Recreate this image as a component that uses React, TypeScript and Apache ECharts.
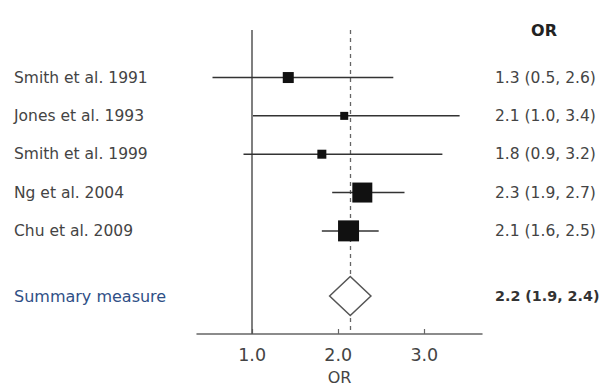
import React, { useEffect, useRef } from "react";
import * as echarts from "echarts";

// ---- data ----
const studies = [
  "Smith et al. 1991",
  "Jones et al. 1993",
  "Smith et al. 1999",
  "Ng et al. 2004",
  "Chu et al. 2009",
];
const estimates = [1.42, 2.07, 1.81, 2.28, 2.12];
const lowerCI = [0.54, 1.01, 0.9, 1.93, 1.81];
const upperCI = [2.64, 3.41, 3.21, 2.77, 2.47];
const weights = [11, 8, 9, 20, 21];
const orLabels = [
  "1.3 (0.5, 2.6)",
  "2.1 (1.0, 3.4)",
  "1.8 (0.9, 3.2)",
  "2.3 (1.9, 2.7)",
  "2.1 (1.6, 2.5)",
];
const rows = [0, 1, 2, 3, 4];
const summaryName = "Summary measure";
const summaryEstimate = 2.14;
const summaryLower = 1.9;
const summaryUpper = 2.38;
const summaryLabel = "2.2 (1.9, 2.4)";
const summaryRow = 5.7;
const xTicks = [1, 2, 3];
const nullValue = 1;
const columnHeader = "OR";
const axisName = "OR";

const FONT = "'DejaVu Sans', sans-serif";

export default function App() {
  const ref = useRef<HTMLDivElement>(null);
  useEffect(() => {
    document.body.style.margin = "0";
    const chart = echarts.init(ref.current!, null, { renderer: "svg" });
    const studyData = studies.map((_, i) => [
      lowerCI[i],
      upperCI[i],
      estimates[i],
      rows[i],
      weights[i],
    ]);
    const option: any = {
      animation: false,
      backgroundColor: "#fff",
      grid: {
        left: 197,
        right: 117,
        top: 30,
        bottom: 56,
        containLabel: false,
        outerBoundsMode: "none",
      },
      xAxis: {
        type: "value",
        min: 0.36,
        max: 3.67,
        name: axisName,
        nameLocation: "middle",
        nameGap: 35,
        nameTextStyle: { fontFamily: FONT, fontSize: 16, color: "#444" },
        axisLine: { show: true, onZero: false, lineStyle: { color: "#666", width: 1.5 } },
        axisTick: {
          show: true,
          inside: true,
          length: 5,
          customValues: xTicks,
          lineStyle: { color: "#666", width: 1.2 },
        },
        axisLabel: {
          customValues: xTicks,
          margin: 12,
          fontFamily: FONT,
          fontSize: 17.5,
          color: "#444",
          formatter: (v: number) => v.toFixed(1),
        },
        splitLine: { show: false },
      },
      yAxis: {
        type: "value",
        inverse: true,
        min: -1.24,
        max: 6.69,
        show: false,
      },
      graphic: [
        {
          type: "text",
          x: 544,
          y: 30,
          style: {
            text: columnHeader,
            fontFamily: FONT,
            fontSize: 16,
            fontWeight: "bold",
            fill: "#222",
            align: "center",
            verticalAlign: "middle",
          },
        },
      ],
      series: [
        {
          type: "line",
          data: [],
          markLine: {
            silent: true,
            symbol: "none",
            z: 1,
            label: { show: false },
            data: [
              { xAxis: nullValue, lineStyle: { type: "solid", color: "#555", width: 1.5 } },
              { xAxis: summaryEstimate, lineStyle: { type: [4, 4], color: "#666", width: 1.3 } },
            ],
          },
        },
        {
          type: "custom",
          z: 3,
          encode: { x: [0, 1, 2], y: 3 },
          data: studyData,
          renderItem: (params: any, api: any) => {
            const y = api.value(3);
            const lo = api.coord([api.value(0), y]);
            const hi = api.coord([api.value(1), y]);
            const c = api.coord([api.value(2), y]);
            const s = api.value(4);
            return {
              type: "group",
              children: [
                {
                  type: "line",
                  shape: { x1: lo[0], y1: lo[1], x2: hi[0], y2: hi[1] },
                  style: { stroke: "#333", lineWidth: 1.5 },
                },
                {
                  type: "rect",
                  shape: { x: c[0] - s / 2, y: c[1] - s / 2, width: s, height: s },
                  style: { fill: "#111" },
                },
                {
                  type: "text",
                  x: 14,
                  y: c[1],
                  style: {
                    text: studies[params.dataIndex],
                    fontFamily: FONT,
                    fontSize: 15.5,
                    fill: "#444",
                    verticalAlign: "middle",
                  },
                },
                {
                  type: "text",
                  x: 495,
                  y: c[1],
                  style: {
                    text: orLabels[params.dataIndex],
                    fontFamily: FONT,
                    fontSize: 15.5,
                    fill: "#444",
                    verticalAlign: "middle",
                  },
                },
              ],
            };
          },
        },
        {
          type: "custom",
          z: 3,
          encode: { x: [0, 1, 2], y: 3 },
          data: [[summaryLower, summaryUpper, summaryEstimate, summaryRow]],
          renderItem: (params: any, api: any) => {
            const y = api.value(3);
            const lo = api.coord([api.value(0), y]);
            const hi = api.coord([api.value(1), y]);
            const c = api.coord([api.value(2), y]);
            const h = 19.5;
            return {
              type: "group",
              children: [
                {
                  type: "polygon",
                  shape: {
                    points: [
                      [lo[0], c[1]],
                      [c[0], c[1] - h],
                      [hi[0], c[1]],
                      [c[0], c[1] + h],
                    ],
                  },
                  style: { fill: "#fff", stroke: "#555", lineWidth: 1.5 },
                },
                {
                  type: "text",
                  x: 14,
                  y: c[1],
                  style: {
                    text: summaryName,
                    fontFamily: FONT,
                    fontSize: 16,
                    fill: "#2f4f86",
                    verticalAlign: "middle",
                  },
                },
                {
                  type: "text",
                  x: 495,
                  y: c[1],
                  style: {
                    text: summaryLabel,
                    fontFamily: FONT,
                    fontSize: 14.3,
                    fontWeight: "bold",
                    fill: "#333",
                    verticalAlign: "middle",
                  },
                },
              ],
            };
          },
        },
      ],
    };
    chart.setOption(option);
    return () => chart.dispose();
  }, []);
  return (
    <div
      ref={ref}
      style={{ position: "fixed", left: 0, top: 0, width: 599, height: 390 }}
    />
  );
}
